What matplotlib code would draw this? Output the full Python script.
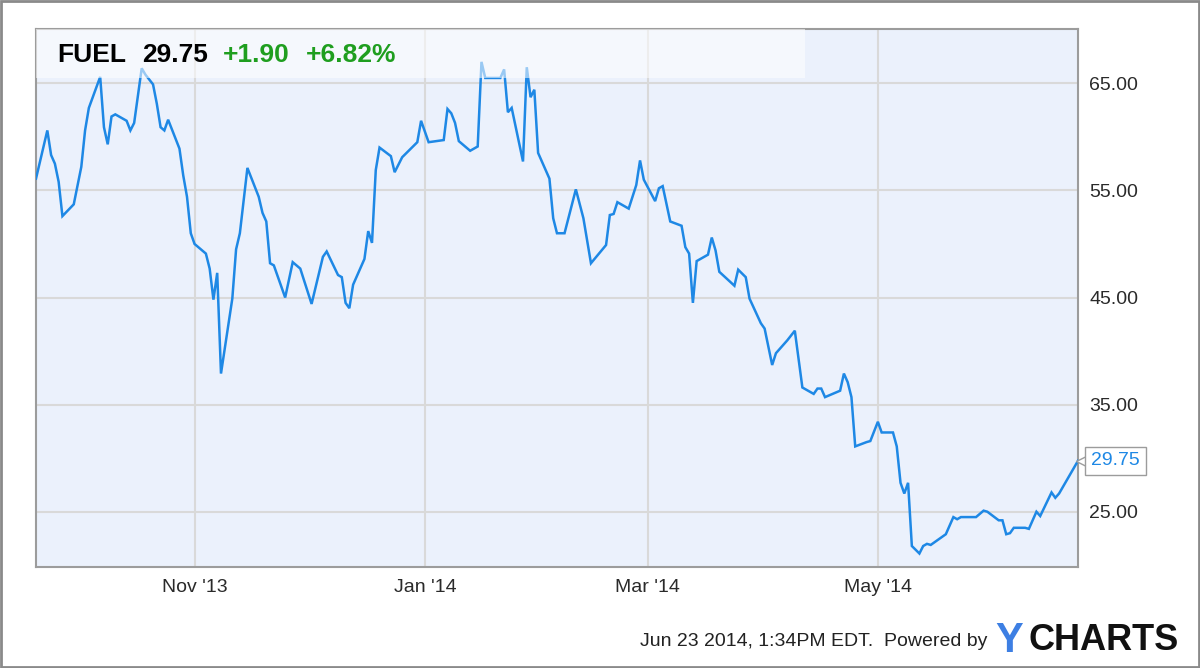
import matplotlib
matplotlib.use("Agg")
import matplotlib.pyplot as plt
import matplotlib.dates as mdates
import matplotlib.transforms as mtransforms
from matplotlib.patches import Rectangle
import pandas as pd

plt.rcParams['font.family'] = ['Liberation Sans', 'DejaVu Sans']

# === DATA ===
ticker = "FUEL"
last_price = "29.75"
change = "+1.90"
change_pct = "+6.82%"
stamp = "Jun 23 2014, 1:34PM EDT.  Powered by"

dates = [
    "2013-09-20", "2013-09-23", "2013-09-24", "2013-09-25", "2013-09-26", "2013-09-27",
    "2013-09-30", "2013-10-02", "2013-10-03", "2013-10-04", "2013-10-07", "2013-10-08",
    "2013-10-09", "2013-10-10", "2013-10-11", "2013-10-14", "2013-10-15", "2013-10-16",
    "2013-10-18", "2013-10-19", "2013-10-21", "2013-10-22", "2013-10-23", "2013-10-24",
    "2013-10-25", "2013-10-28", "2013-10-29", "2013-10-30", "2013-10-31", "2013-11-01",
    "2013-11-04", "2013-11-05", "2013-11-06", "2013-11-07", "2013-11-08", "2013-11-11",
    "2013-11-12", "2013-11-13", "2013-11-15", "2013-11-18", "2013-11-19", "2013-11-20",
    "2013-11-21", "2013-11-22", "2013-11-25", "2013-11-27", "2013-11-29", "2013-12-02",
    "2013-12-05", "2013-12-06", "2013-12-09", "2013-12-10", "2013-12-11", "2013-12-12",
    "2013-12-13", "2013-12-16", "2013-12-17", "2013-12-18", "2013-12-19", "2013-12-20",
    "2013-12-23", "2013-12-24", "2013-12-26", "2013-12-30", "2013-12-31", "2014-01-02",
    "2014-01-06", "2014-01-07", "2014-01-08", "2014-01-09", "2014-01-10", "2014-01-13",
    "2014-01-15", "2014-01-16", "2014-01-17", "2014-01-21", "2014-01-22", "2014-01-23",
    "2014-01-24", "2014-01-27", "2014-01-28", "2014-01-29", "2014-01-30", "2014-01-31",
    "2014-02-03", "2014-02-04", "2014-02-05", "2014-02-07", "2014-02-10", "2014-02-12",
    "2014-02-14", "2014-02-18", "2014-02-19", "2014-02-20", "2014-02-21", "2014-02-24",
    "2014-02-26", "2014-02-27", "2014-02-28", "2014-03-03", "2014-03-04", "2014-03-05",
    "2014-03-07", "2014-03-10", "2014-03-11", "2014-03-12", "2014-03-13", "2014-03-14",
    "2014-03-17", "2014-03-18", "2014-03-19", "2014-03-20", "2014-03-24", "2014-03-25",
    "2014-03-27", "2014-03-28", "2014-03-31", "2014-04-01", "2014-04-03", "2014-04-04",
    "2014-04-07", "2014-04-09", "2014-04-11", "2014-04-14", "2014-04-15", "2014-04-16",
    "2014-04-17", "2014-04-21", "2014-04-22", "2014-04-23", "2014-04-24", "2014-04-25",
    "2014-04-28", "2014-04-29", "2014-05-01", "2014-05-02", "2014-05-05", "2014-05-06",
    "2014-05-07", "2014-05-08", "2014-05-09", "2014-05-10", "2014-05-12", "2014-05-13",
    "2014-05-14", "2014-05-15", "2014-05-19", "2014-05-21", "2014-05-22", "2014-05-23",
    "2014-05-27", "2014-05-29", "2014-05-30", "2014-06-02", "2014-06-03", "2014-06-04",
    "2014-06-05", "2014-06-06", "2014-06-09", "2014-06-10", "2014-06-12", "2014-06-13",
    "2014-06-16", "2014-06-17", "2014-06-18", "2014-06-23",
]
prices = [
    56.1, 60.6, 58.3, 57.5, 55.8, 52.6,
    53.7, 57.2, 60.6, 62.7, 65.6, 60.9,
    59.3, 61.9, 62.1, 61.5, 60.6, 61.3,
    66.4, 65.8, 64.9, 63.1, 60.9, 60.6,
    61.6, 58.9, 56.4, 54.4, 51.0, 50.0,
    49.1, 47.7, 44.8, 47.3, 37.9, 44.9,
    49.5, 51.0, 57.1, 54.4, 52.9, 52.1,
    48.2, 48.0, 45.0, 48.3, 47.7, 44.4,
    48.8, 49.3, 47.1, 46.9, 44.5, 44.0,
    46.2, 48.6, 51.2, 50.1, 56.9, 59.0,
    58.2, 56.7, 58.1, 59.5, 61.5, 59.5,
    59.7, 62.6, 62.2, 61.3, 59.6, 58.7,
    59.1, 67.0, 65.5, 65.5, 66.3, 62.3,
    62.7, 57.7, 66.5, 63.7, 64.4, 58.5,
    56.1, 52.4, 51.0, 51.0, 55.1, 52.4,
    48.2, 49.9, 52.7, 52.8, 53.9, 53.3,
    55.5, 57.8, 56.0, 54.0, 55.2, 55.4,
    52.1, 51.7, 49.7, 49.1, 44.5, 48.4,
    49.0, 50.6, 49.4, 47.4, 46.1, 47.6,
    46.9, 44.9, 42.6, 42.1, 38.7, 39.8,
    41.0, 41.9, 36.6, 36.0, 36.5, 36.5,
    35.7, 36.3, 37.9, 37.1, 35.7, 31.1,
    31.5, 31.6, 33.4, 32.4, 32.4, 31.1,
    27.7, 26.7, 27.7, 21.8, 21.1, 21.8,
    22.0, 21.9, 22.9, 24.5, 24.3, 24.5,
    24.5, 25.1, 25.0, 24.2, 24.2, 22.9,
    23.0, 23.5, 23.5, 23.4, 25.0, 24.6,
    26.8, 26.3, 26.7, 29.75,
]
y_ticks = [25, 35, 45, 55, 65]

# === STYLE ===
line_color = '#1e88e5'
plot_bg = '#ebf1fc'
grid_color = '#d9d9d9'
spine_color = '#9c9c9c'
green = '#1f9e1f'

x = pd.to_datetime(dates)

fig = plt.figure(figsize=(12, 6.68), dpi=100)
ax = fig.add_axes([0.03, 0.1512, 0.8683, 0.8054])
ax.set_facecolor(plot_bg)

ax.plot(x, prices, color=line_color, linewidth=1.8, zorder=3, solid_joinstyle='miter')

ax.set_xlim(pd.Timestamp("2013-09-20"), pd.Timestamp("2014-06-23"))
ax.set_ylim(19.84, 70.07)

# axes: ticks on right, month gridlines
ax.yaxis.tick_right()
ax.set_yticks(y_ticks)
ax.yaxis.set_major_formatter(matplotlib.ticker.FormatStrFormatter('%.2f'))
ax.xaxis.set_major_locator(mdates.MonthLocator(bymonth=[1, 3, 5, 11]))
ax.xaxis.set_major_formatter(mdates.DateFormatter("%b '%y"))
ax.tick_params(axis='both', length=0, labelsize=14, labelcolor='#2a2a2a')
ax.tick_params(axis='y', pad=8)
ax.tick_params(axis='x', pad=9)
ax.grid(True, color=grid_color, linewidth=1.5, zorder=1)
ax.set_axisbelow(True)
for s in ax.spines.values():
    s.set_color(spine_color)
    s.set_linewidth(1.5)

# === header strip with ticker info ===
ax.add_patch(Rectangle((0, 0.909), 0.738, 0.091, transform=ax.transAxes,
                       facecolor='white', alpha=0.55, edgecolor='none', zorder=4))
ax.text(0.0202, 0.9387, ticker, transform=ax.transAxes, fontsize=19,
        fontweight='bold', color='black', va='baseline', zorder=5)
ax.text(0.1017, 0.9387, last_price, transform=ax.transAxes, fontsize=19,
        fontweight='bold', color='black', va='baseline', zorder=5)
ax.text(0.1795, 0.9387, change, transform=ax.transAxes, fontsize=19,
        fontweight='bold', color=green, va='baseline', zorder=5)
ax.text(0.2591, 0.9387, change_pct, transform=ax.transAxes, fontsize=19,
        fontweight='bold', color=green, va='baseline', zorder=5)

# === last value flag ===
trans = mtransforms.blended_transform_factory(ax.transAxes, ax.transData)
ax.plot([1.0055], [prices[-1]], marker='<', markersize=11, markerfacecolor='white',
        markeredgecolor=spine_color, markeredgewidth=1, transform=trans,
        clip_on=False, zorder=6)
ax.text(1.0125, prices[-1], last_price, transform=trans, fontsize=14,
        color=line_color, va='center', ha='left', clip_on=False, zorder=7,
        bbox=dict(boxstyle='square,pad=0.3', facecolor='white',
                  edgecolor=spine_color, linewidth=1))

# === footer ===
fig.text(640 / 1200, 1 - 642 / 668, stamp, fontsize=14, color='#222222',
         va='center', ha='left')
fig.text(995 / 1200, 1 - 641 / 668, "Y", fontsize=30, fontweight='bold',
         color='#3d7fe3', va='center', ha='left')
fig.text(1029 / 1200, 1 - 641 / 668, "CHARTS", fontsize=26, fontweight='bold',
         color='#111111', va='center', ha='left')

# outer frame
fig.patches.append(Rectangle((0.001, 0.0015), 0.998, 0.997, transform=fig.transFigure,
                             fill=False, edgecolor='#8a8a8a', linewidth=2))

fig.savefig("out.png", dpi=100, facecolor='white')
